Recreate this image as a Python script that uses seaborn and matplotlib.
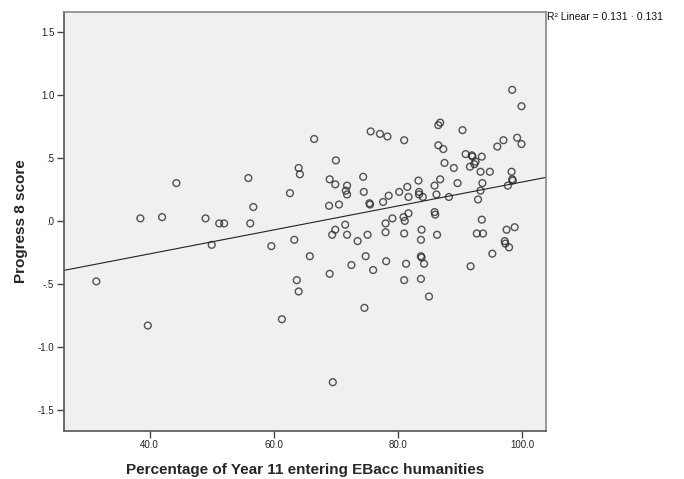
import matplotlib
matplotlib.use("Agg")
import matplotlib.pyplot as plt
import pandas as pd
import seaborn as sns

# percentage of Year 11 entering EBacc humanities (one value per school)
ebacc_pct = [
    31.4, 38.5, 42.0, 39.7, 44.3, 49.0, 50.0, 51.2, 52.0, 55.9,
    56.7, 56.2, 59.6, 61.3, 62.6, 63.3, 65.8, 63.7, 64.0, 66.5,
    64.0, 64.2, 70.0, 75.6, 77.1, 78.3, 81.0, 86.8, 86.5, 90.4,
    98.4, 99.9, 86.5, 87.3, 96.0, 97.0, 99.2, 99.9, 87.5, 89.0,
    90.9, 91.9, 92.0, 93.5, 92.5, 92.3, 91.6, 93.3, 94.8, 98.3,
    98.4, 98.5, 97.7, 93.6, 93.3, 89.6, 86.8, 85.9, 86.2, 88.2,
    92.9, 83.3, 83.4, 83.4, 84.0, 81.5, 81.7, 80.2, 78.5, 77.6,
    74.4, 74.5, 75.4, 75.5, 69.0, 69.9, 71.8, 71.6, 71.8, 68.9,
    70.5, 85.9, 86.0, 93.5, 81.7, 80.9, 81.1, 79.1, 78.0, 78.0,
    81.0, 71.5, 69.9, 69.4, 71.8, 73.5, 75.1, 74.8, 72.5, 76.0,
    78.1, 81.3, 69.0, 81.0, 74.6, 69.5, 83.8, 83.7, 86.3, 92.7,
    93.7, 97.5, 98.8, 97.2, 97.3, 97.9, 95.2, 83.7, 83.8, 84.2,
    91.7, 83.7, 85.0,
]

# Progress 8 score
p8_score = [
    -0.48, 0.02, 0.03, -0.83, 0.30, 0.02, -0.19, -0.02, -0.02, 0.34,
    0.11, -0.02, -0.20, -0.78, 0.22, -0.15, -0.28, -0.47, -0.56, 0.65,
    0.42, 0.37, 0.48, 0.71, 0.69, 0.67, 0.64, 0.78, 0.76, 0.72,
    1.04, 0.91, 0.60, 0.57, 0.59, 0.64, 0.66, 0.61, 0.46, 0.42,
    0.53, 0.52, 0.51, 0.51, 0.47, 0.45, 0.43, 0.39, 0.39, 0.39,
    0.33, 0.32, 0.28, 0.30, 0.24, 0.30, 0.33, 0.28, 0.21, 0.19,
    0.17, 0.32, 0.23, 0.21, 0.19, 0.27, 0.19, 0.23, 0.20, 0.15,
    0.35, 0.23, 0.14, 0.13, 0.33, 0.29, 0.28, 0.24, 0.21, 0.12,
    0.13, 0.07, 0.05, 0.01, 0.06, 0.03, 0.00, 0.02, -0.02, -0.09,
    -0.10, -0.03, -0.07, -0.11, -0.11, -0.16, -0.11, -0.28, -0.35, -0.39,
    -0.32, -0.34, -0.42, -0.47, -0.69, -1.28, -0.07, -0.15, -0.11, -0.10,
    -0.10, -0.07, -0.05, -0.16, -0.18, -0.21, -0.26, -0.28, -0.29, -0.34,
    -0.36, -0.46, -0.60,
]

x_ticks = [40, 60, 80, 100]
x_tick_labels = ["40.0", "60.0", "80.0", "100.0"]
y_ticks = [1.5, 1.0, 0.5, 0.0, -0.5, -1.0, -1.5]
y_tick_labels = ["1.5", "1.0", ".5", ".0", "-.5", "-1.0", "-1.5"]
r2_text = "R\u00b2 Linear = 0.131 \u00b7 0.131"

df = pd.DataFrame({"ebacc": ebacc_pct, "p8": p8_score})

sns.set_style("white")
plt.rcParams["font.family"] = ["Liberation Sans", "DejaVu Sans"]

fig = plt.figure(figsize=(6.84, 4.79), dpi=100)
ax = fig.add_axes([0.0936, 0.1002, 0.7042, 0.8754])
ax.set_facecolor("#f0f0f0")

# limits first so the fit line spans the whole frame
ax.set_xlim(26.2, 103.8)
ax.set_ylim(-1.667, 1.66)

sns.regplot(data=df, x="ebacc", y="p8", ax=ax, ci=None, truncate=False,
            scatter_kws=dict(s=24, facecolors="none", edgecolors="#2a2a2a",
                             linewidths=1.0),
            line_kws=dict(color="#222222", lw=0.8))

ax.set_xticks(x_ticks)
ax.set_xticklabels(x_tick_labels)
ax.set_yticks(y_ticks)
ax.set_yticklabels(y_tick_labels)
ax.tick_params(axis="both", direction="out", length=5, width=1,
               color="#444444", labelsize=7, labelcolor="#222222",
               left=True, bottom=True)
ax.tick_params(axis="x", pad=1.5)
ax.tick_params(axis="y", pad=2)

for side, sp in ax.spines.items():
    sp.set_color("#555555" if side in ("left", "bottom") else "#888888")
    sp.set_linewidth(1.2)

ax.set_xlabel("Percentage of Year 11 entering EBacc humanities",
              fontsize=11, fontweight="bold", labelpad=9)
ax.set_ylabel("Progress 8 score", fontsize=11, fontweight="bold",
              labelpad=7)

fig.text(0.8, 0.9645, r2_text, fontsize=7.5, va="center", ha="left",
         color="#111111")

fig.savefig("out.png", dpi=100, facecolor="white")
